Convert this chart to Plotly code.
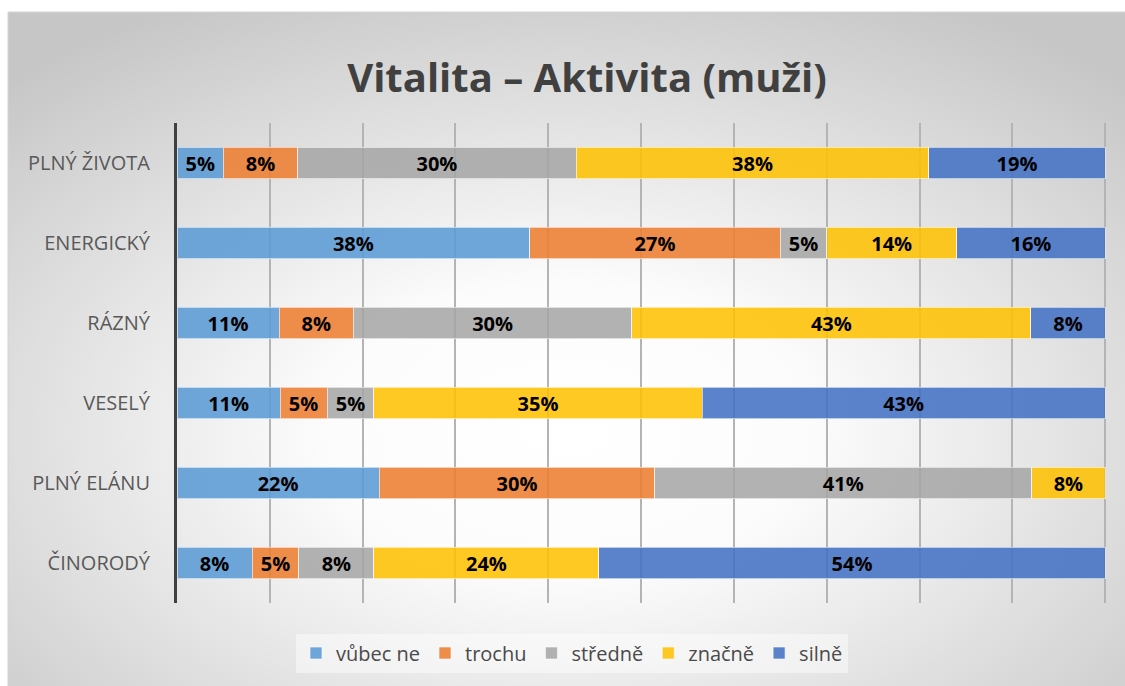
import base64
import plotly.graph_objects as go

# Categories (top to bottom) and answer shares in percent
categories = ["PLNÝ ŽIVOTA", "ENERGICKÝ", "RÁZNÝ", "VESELÝ", "PLNÝ ELÁNU", "ČINORODÝ"]

vubec_ne = [5, 38, 11, 11, 22, 8]
trochu = [8, 27, 8, 5, 30, 5]
stredne = [30, 5, 30, 5, 41, 8]
znacne = [38, 14, 43, 35, 8, 24]
silne = [19, 16, 8, 43, None, 54]

series = [
    ("vůbec ne", vubec_ne, "rgba(91,155,213,0.88)"),
    ("trochu", trochu, "rgba(237,125,49,0.88)"),
    ("středně", stredne, "rgba(165,165,165,0.85)"),
    ("značně", znacne, "rgba(255,192,0,0.86)"),
    ("silně", silne, "rgba(68,114,196,0.88)"),
]

FONT = "Open Sans"

fig = go.Figure()
for name, vals, color in series:
    fig.add_trace(go.Bar(
        y=categories,
        x=vals,
        name=name,
        orientation="h",
        marker=dict(color=color, line=dict(color="rgba(255,255,255,0.6)", width=1)),
        text=[f"{v}%" if v is not None else "" for v in vals],
        texttemplate="%{text}",
        textposition="inside",
        insidetextanchor="middle",
        textangle=0,
        constraintext="none",
        textfont=dict(family=FONT, size=20, color="#000000", weight="bold"),
        hoverinfo="skip",
    ))

# Radial grey-to-white background for the chart area
svg = (
    '<svg xmlns="http://www.w3.org/2000/svg" width="1117" height="674" '
    'preserveAspectRatio="none" viewBox="0 0 1117 674">'
    '<defs><radialGradient id="g" cx="0.5" cy="0.62" r="0.72">'
    '<stop offset="0" stop-color="#ffffff"/>'
    '<stop offset="0.3" stop-color="#fcfcfc"/>'
    '<stop offset="1" stop-color="#c6c6c6"/>'
    '</radialGradient></defs>'
    '<rect width="1117" height="674" fill="url(#g)"/></svg>'
)
bg_src = "data:image/svg+xml;base64," + base64.b64encode(svg.encode()).decode()

W, H = 1125, 686
L, R, T, B = 177, 18, 123, 83
pw, ph = W - L - R, H - T - B


def px_x(px):
    return (px - L) / pw


def px_y(py):
    return (H - B - py) / ph


fig.update_layout(
    width=W,
    height=H,
    margin=dict(l=L, r=R, t=T, b=B),
    barmode="stack",
    barnorm="percent",
    bargap=0.61,
    paper_bgcolor="#ffffff",
    plot_bgcolor="rgba(0,0,0,0)",
    font=dict(family=FONT, color="#595959"),
    title=dict(
        text="Vitalita – Aktivita (muži)",
        x=587 / W,
        xanchor="center",
        y=1 - 78 / H,
        yanchor="middle",
        font=dict(family=FONT, size=40, color="#404040", weight="bold"),
    ),
    xaxis=dict(
        range=[0, 100.2],
        dtick=10,
        showticklabels=False,
        showgrid=True,
        gridcolor="#b4b4b4",
        gridwidth=2,
        zeroline=False,
        showline=False,
        fixedrange=True,
    ),
    yaxis=dict(
        autorange="reversed",
        showline=True,
        linecolor="#404040",
        linewidth=3,
        ticks="",
        ticklabelstandoff=20,
        tickfont=dict(family=FONT, size=20, color="#595959"),
        showgrid=False,
        fixedrange=True,
    ),
    legend=dict(
        orientation="h",
        x=px_x(572),
        xanchor="center",
        y=px_y(653),
        yanchor="middle",
        bgcolor="rgba(255,255,255,0.45)",
        font=dict(family=FONT, size=20, color="#4a4a4a"),
        traceorder="normal",
        itemwidth=30,
    ),
    images=[dict(
        source=bg_src,
        xref="paper",
        yref="paper",
        x=px_x(8),
        y=px_y(12),
        sizex=(W - 8) / pw,
        sizey=(H - 12) / ph,
        xanchor="left",
        yanchor="top",
        sizing="stretch",
        layer="below",
    )],
    shapes=[dict(
        type="rect",
        xref="paper",
        yref="paper",
        x0=px_x(8),
        x1=px_x(W + 2),
        y0=px_y(H + 2),
        y1=px_y(12),
        line=dict(color="#d4d4d4", width=1),
        fillcolor="rgba(0,0,0,0)",
        layer="below",
    )],
)

fig.write_html("out.html")
